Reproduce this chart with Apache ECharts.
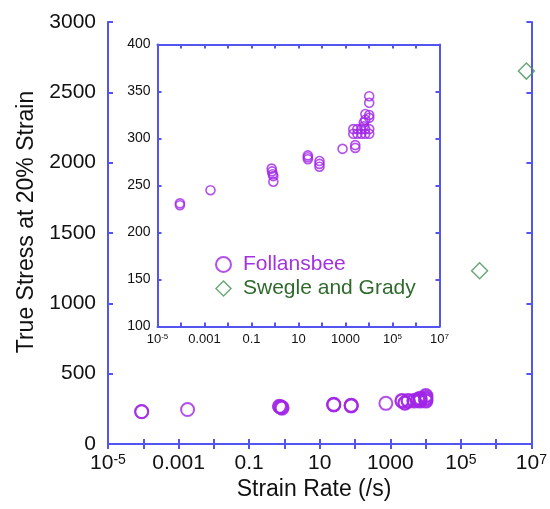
<!DOCTYPE html>
<html lang="en">
<head>
    <meta charset="UTF-8">
    <title>True Stress vs Strain Rate</title>
    <script src="https://cdn.jsdelivr.net/npm/echarts@6/dist/echarts.min.js"></script>
    <style>
        html, body { margin: 0; padding: 0; background: #fff; }
        #chart { width: 550px; height: 509px; }
    </style>
</head>
<body>
<div id="chart"></div>
<script>
    // Follansbee data (strain rate /s, true stress)
    var follRate = [9e-5, 9e-5, 0.0018, 0.72, 0.75, 0.8, 0.85, 0.85, 25, 25, 25, 78, 78, 78, 750,
        2600, 2600, 2150, 2150, 3200, 3200, 4700, 4700, 6900, 6900, 10200, 10200,
        10200, 10200, 10200, 10200, 7000, 7000, 6000, 6000];
    var follStress = [231, 229, 245, 268, 265, 262, 260, 254, 282, 280, 278, 276, 273, 270, 289,
        293, 290, 310, 305, 310, 305, 310, 305, 310, 305, 310, 305,
        345, 338, 325, 322, 326, 320, 317, 313];
    // Swegle and Grady data
    var sgRate = [3.4e5, 7.2e6];
    var sgStress = [1232, 2651];

    var xTickLabels = {
        '-5': '{b|10}{s|-5}', '-3': '0.001', '-1': '0.1', '1': '10',
        '3': '1000', '5': '{b|10}{s|5}', '7': '{b|10}{s|7}'
    };

    var purple = '#a126e6';
    var green = '#4a9258';
    var frame = '#5454f0';

    function zip(a, b) {
        var out = [];
        for (var i = 0; i < a.length; i++) out.push([a[i], b[i]]);
        return out;
    }
    var follData = zip(follRate, follStress);
    var sgData = zip(sgRate, sgStress);

    function xLabel(v) {
        var e = Math.round(Math.log(v) / Math.LN10);
        return xTickLabels[String(e)] || '';
    }

    function xAxisCfg(grid, pos, big) {
        var fs = big ? 21 : 13;
        return {
            type: 'log', logBase: 10, min: 1e-5, max: 1e7, interval: 1, splitNumber: 12,
            gridIndex: grid, position: pos,
            axisLine: {show: true, lineStyle: {color: frame, width: 2}},
            axisTick: {show: true, inside: true, length: big ? 5 : 4, lineStyle: {color: frame, width: 2}},
            splitLine: {show: false},
            axisLabel: {
                show: pos === 'bottom', margin: big ? 9 : 6, formatter: xLabel, color: '#111',
                fontFamily: 'Liberation Sans, Arial', fontSize: fs, interval: 0, hideOverlap: false,
                rich: {
                    b: {fontSize: fs, fontFamily: 'Liberation Sans, Arial', color: '#111', verticalAlign: 'bottom'},
                    s: {fontSize: Math.round(fs * 0.65), fontFamily: 'Liberation Sans, Arial', color: '#111', verticalAlign: 'top'}
                }
            }
        };
    }

    function yAxisCfg(grid, pos, big) {
        return {
            type: 'value', gridIndex: grid, position: pos,
            min: big ? 0 : 100, max: big ? 3000 : 400, interval: big ? 500 : 50,
            axisLine: {show: true, lineStyle: {color: frame, width: 2}},
            axisTick: {show: true, inside: true, length: big ? 5 : 4, lineStyle: {color: frame, width: 2}},
            splitLine: {show: false},
            axisLabel: {
                show: pos === 'left', margin: big ? 12 : 7, color: '#111',
                formatter: function (v) { return String(v); },
                fontFamily: 'Liberation Sans, Arial', fontSize: big ? 21 : 14
            }
        };
    }

    var chart = echarts.init(document.getElementById('chart'));

    var option = {
        animation: false,
        backgroundColor: '#fff',
        grid: [
            {left: 108, top: 22, width: 424, height: 422},
            {left: 157.5, top: 44.5, width: 282, height: 282, show: true, backgroundColor: '#fff', borderWidth: 0}
        ],
        xAxis: [
            xAxisCfg(0, 'bottom', true), xAxisCfg(0, 'top', true),
            xAxisCfg(1, 'bottom', false), xAxisCfg(1, 'top', false)
        ],
        yAxis: [
            yAxisCfg(0, 'left', true), yAxisCfg(0, 'right', true),
            yAxisCfg(1, 'left', false), yAxisCfg(1, 'right', false)
        ],
        legend: {
            left: 210, top: 249, orient: 'vertical', itemWidth: 15, itemHeight: 15, itemGap: 3,
            textStyle: {fontSize: 21, fontFamily: 'Liberation Sans, Arial', padding: [0, 0, 0, 7]},
            data: [
                {name: 'Follansbee', icon: 'circle',
                    itemStyle: {color: 'rgba(0,0,0,0)', borderColor: purple, borderWidth: 2},
                    textStyle: {color: '#a332e0'}},
                {name: 'Swegle and Grady', icon: 'diamond',
                    itemStyle: {color: 'rgba(0,0,0,0)', borderColor: green, borderWidth: 1.5},
                    textStyle: {color: '#2f6a2c'}}
            ]
        },
        graphic: [
            {type: 'text', x: 27, y: 222, rotation: Math.PI / 2,
                style: {text: 'True Stress at 20% Strain', fill: '#111', font: '23px Liberation Sans, Arial',
                    align: 'center', verticalAlign: 'middle'}},
            {type: 'text', x: 314, y: 490,
                style: {text: 'Strain Rate (/s)', fill: '#111', font: '23px Liberation Sans, Arial',
                    align: 'center', verticalAlign: 'middle'}}
        ],
        series: [
            {
                name: 'Follansbee', type: 'scatter', xAxisIndex: 0, yAxisIndex: 0,
                symbol: 'circle', symbolSize: 13,
                itemStyle: {color: 'rgba(0,0,0,0)', borderColor: purple, borderWidth: 2},
                data: follData
            },
            {
                name: 'Swegle and Grady', type: 'scatter', xAxisIndex: 0, yAxisIndex: 0,
                symbol: 'diamond', symbolSize: 16,
                itemStyle: {color: 'rgba(0,0,0,0)', borderColor: green, borderWidth: 1.5},
                data: sgData
            },
            {
                name: 'Follansbee', type: 'scatter', xAxisIndex: 2, yAxisIndex: 2,
                symbol: 'circle', symbolSize: 9,
                itemStyle: {color: 'rgba(0,0,0,0)', borderColor: purple, borderWidth: 1.6},
                data: follData
            }
        ]
    };

    chart.setOption(option);
</script>
</body>
</html>
